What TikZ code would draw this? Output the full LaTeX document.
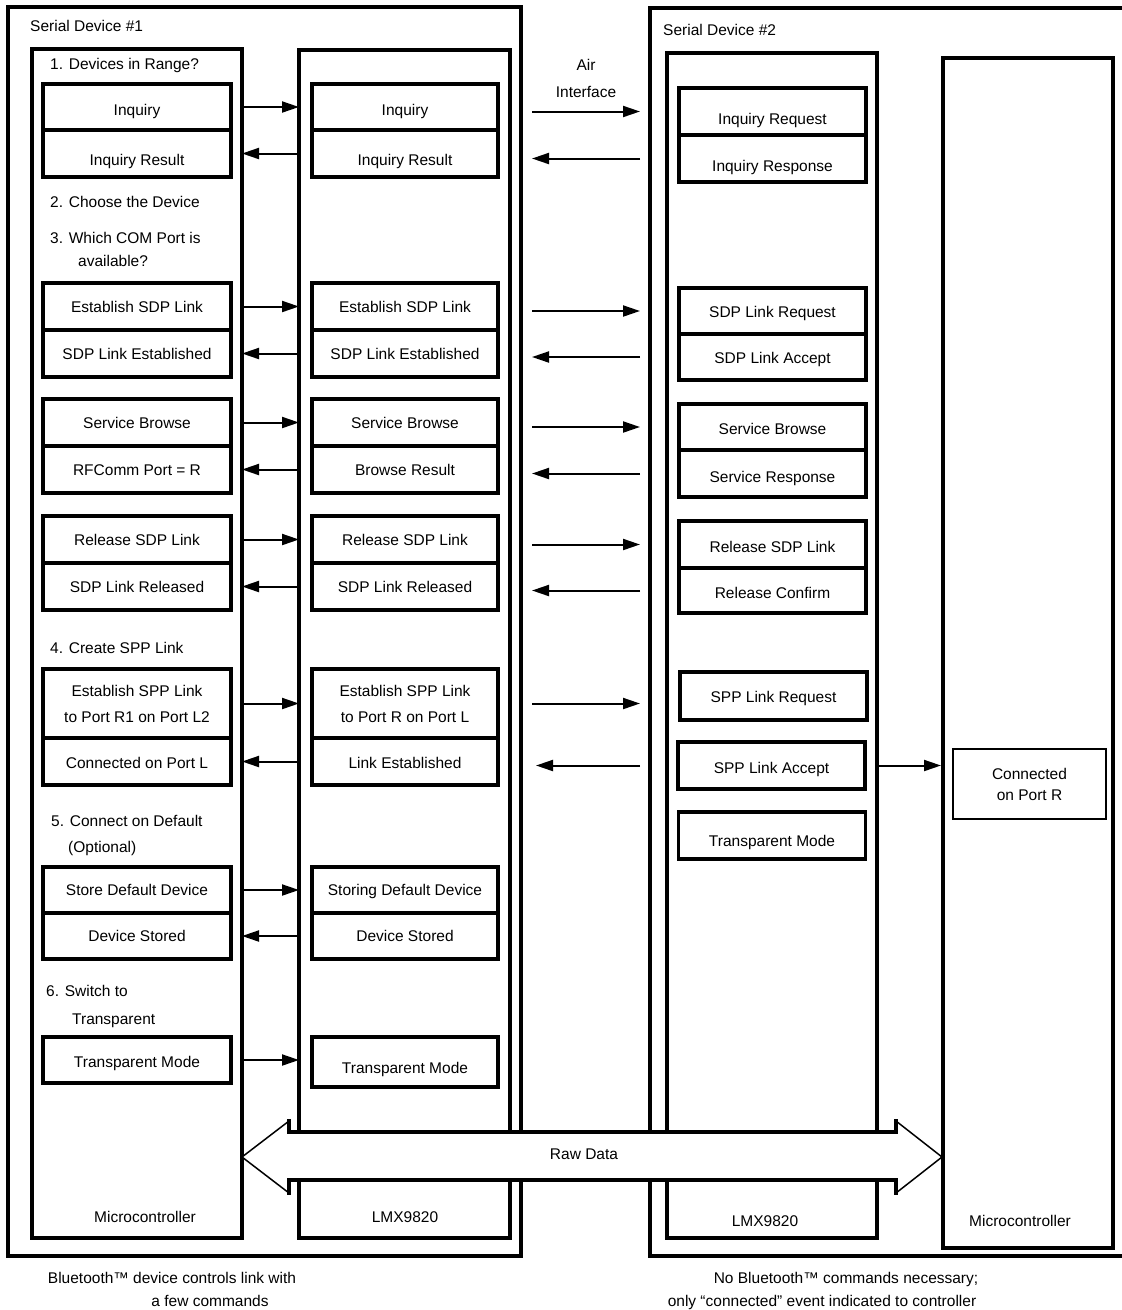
\documentclass[tikz,border=0pt]{standalone}
\usepackage{fontspec}
\setmainfont{Liberation Sans}
\usetikzlibrary{arrows.meta}
\newcommand\dfont{\fontsize{15.5}{18}\selectfont}
\tikzset{
  bx/.style={draw, line width=3.6pt, inner sep=0pt, outer sep=0pt, font=\dfont, text height=11pt, text depth=0pt, align=center},
  sh/.style={text height=#1},
  ml/.style={text height=, text depth=},
  big/.style={draw, line width=3.8pt, inner sep=0pt, outer sep=0pt},
  frame/.style={line width=4.4pt},
  conn/.style={line width=2pt, -{Triangle[length=17pt,width=11pt]}},
  air/.style={conn, shorten <=11pt, shorten >=10pt},
  lbl/.style={font=\dfont, inner sep=0pt, text height=11pt, text depth=0pt},
  colA/.style={bx, minimum width=188, minimum height=47},
  colB/.style={bx, minimum width=186, minimum height=47},
  colC/.style={bx, minimum width=187, minimum height=47},
  fatline/.style={line width=3.8pt},
  thinline/.style={line width=1.5pt},
}
\begin{document}
\begin{tikzpicture}[x=1pt,y=-1pt]
\useasboundingbox (0,0) rectangle (1122,1310);

% outer frames
\node[big, line width=4.4pt, minimum width=513, minimum height=1249] (dev1) at (264.5,631.5) {};
\coordinate (dev2nw) at (650,8);
\coordinate (dev2sw) at (650,1256);
\draw[frame] (1140,8) -- (dev2nw) -- (dev2sw) -- (1140,1256);
\coordinate (dev2) at (650,631.5);

\node[lbl, anchor=west] (t-dev1) at (30,26) {Serial Device \#1};
\node[lbl, anchor=west] (t-dev2) at (663,30) {Serial Device \#2};
\node[lbl] (t-air1) at (586,65) {Air};
\node[lbl] (t-air2) at (586,92) {Interface};

% big component boxes
\node[big, minimum width=210, minimum height=1189] (mc1) at (137,643.5) {};
\node[big, minimum width=211, minimum height=1188] (lmx1) at (404.5,644) {};
\node[big, minimum width=210, minimum height=1185] (lmx2) at (772,645.5) {};
\node[big, minimum width=170, minimum height=1190] (mc2) at (1028,653) {};

\node[lbl] (t-mc1) at (145,1217) {Microcontroller};
\node[lbl] (t-lmx1) at (405,1217) {LMX9820};
\node[lbl] (t-lmx2) at (765,1221) {LMX9820};
\node[lbl] (t-mc2) at (1020,1221) {Microcontroller};

% step labels
\node[lbl, anchor=west] (s1) at (50,64) {1. Devices in Range?};
\node[lbl, anchor=west] (s2) at (50,202) {2. Choose the Device};
\node[lbl, anchor=west] (s3a) at (50,238) {3. Which COM Port is};
\node[lbl, anchor=west] (s3b) at (78,261) {available?};
\node[lbl, anchor=west] (s4) at (50,648) {4. Create SPP Link};
\node[lbl, anchor=west] (s5a) at (51,821) {5. Connect on Default};
\node[lbl, anchor=west] (s5b) at (68,847) {(Optional)};
\node[lbl, anchor=west] (s6a) at (46,991) {6. Switch to};
\node[lbl, anchor=west] (s6b) at (72,1019) {Transparent};

% column A (microcontroller 1)
\node[colA, minimum height=46, sh=17pt] (inqA) at (137,107) {Inquiry};
\node[colA, sh=23pt] (inqresA) at (137,153.5) {Inquiry Result};
\node[colA] (sdpA) at (137,306.5) {Establish SDP Link};
\node[colA] (sdpestA) at (137,353.5) {SDP Link Established};
\node[colA] (sbA) at (137,422.5) {Service Browse};
\node[colA] (rfA) at (137,469.5) {RFComm Port = R};
\node[colA] (relA) at (137,539.5) {Release SDP Link};
\node[colA] (reldA) at (137,586.5) {SDP Link Released};
\node[colA, ml, minimum height=69] (sppA) at (137,703.5) {Establish SPP Link\\[8pt]to Port R1 on Port L2};
\node[colA, sh=13pt] (conA) at (137,761.5) {Connected on Port L};
\node[colA, minimum height=46] (storeA) at (137,890) {Store Default Device};
\node[colA, minimum height=46] (dsA) at (137,936) {Device Stored};
\node[colA, minimum height=46, sh=15pt] (tmA) at (137,1060) {Transparent Mode};

% column B (LMX9820 #1)
\node[colB, minimum height=46, sh=17pt] (inqB) at (405,107) {Inquiry};
\node[colB, sh=23pt] (inqresB) at (405,153.5) {Inquiry Result};
\node[colB] (sdpB) at (405,306.5) {Establish SDP Link};
\node[colB] (sdpestB) at (405,353.5) {SDP Link Established};
\node[colB] (sbB) at (405,422.5) {Service Browse};
\node[colB] (brB) at (405,469.5) {Browse Result};
\node[colB] (relB) at (405,539.5) {Release SDP Link};
\node[colB] (reldB) at (405,586.5) {SDP Link Released};
\node[colB, ml, minimum height=69] (sppB) at (405,703.5) {Establish SPP Link\\[8pt]to Port R on Port L};
\node[colB, sh=13pt] (linkB) at (405,761.5) {Link Established};
\node[colB, minimum height=46] (storeB) at (405,890) {Storing Default Device};
\node[colB, minimum height=46] (dsB) at (405,936) {Device Stored};
\node[colB, minimum height=50, sh=23pt] (tmB) at (405,1062) {Transparent Mode};

% column C (LMX9820 #2)
\node[colC, sh=25pt] (irqC) at (772.5,111.5) {Inquiry Request};
\node[colC, sh=25pt] (irsC) at (772.5,158.5) {Inquiry Response};
\node[colC, minimum height=46, sh=13pt] (sdprqC) at (772.5,311) {SDP Link Request};
\node[colC, minimum height=46, sh=13pt] (sdpacC) at (772.5,357) {SDP Link Accept};
\node[colC, minimum height=46, sh=15pt] (sbC) at (772.5,427) {Service Browse};
\node[colC, sh=17pt] (srC) at (772.5,473.5) {Service Response};
\node[colC, sh=15pt] (relC) at (772.5,544.5) {Release SDP Link};
\node[colC, minimum height=45, sh=15pt] (rcC) at (772.5,590.5) {Release Confirm};
\node[colC, minimum height=48, sh=13pt] (spprqC) at (773.5,696) {SPP Link Request};
\node[colC, sh=15pt] (sppacC) at (771.5,765.5) {SPP Link Accept};
\node[colC, sh=21pt] (tmC) at (772,835.5) {Transparent Mode};

% microcontroller 2
\node[bx, thinline, ml, minimum width=153, minimum height=70] (conR) at (1029.5,784) {Connected\\[3pt]on Port R};

% connectors MC1 <-> LMX1
\draw[conn] (mc1.east |- inqA.east) -- (lmx1.west |- inqA.east);
\draw[conn] (lmx1.west |- inqresA.east) -- (mc1.east |- inqresA.east);
\draw[conn] (mc1.east |- sdpA.east) -- (lmx1.west |- sdpA.east);
\draw[conn] (lmx1.west |- sdpestA.east) -- (mc1.east |- sdpestA.east);
\draw[conn] (mc1.east |- sbA.east) -- (lmx1.west |- sbA.east);
\draw[conn] (lmx1.west |- rfA.east) -- (mc1.east |- rfA.east);
\draw[conn] (mc1.east |- relA.east) -- (lmx1.west |- relA.east);
\draw[conn] (lmx1.west |- reldA.east) -- (mc1.east |- reldA.east);
\draw[conn] (mc1.east |- sppA.east) -- (lmx1.west |- sppA.east);
\draw[conn] (lmx1.west |- conA.east) -- (mc1.east |- conA.east);
\draw[conn] (mc1.east |- storeA.east) -- (lmx1.west |- storeA.east);
\draw[conn] (lmx1.west |- dsA.east) -- (mc1.east |- dsA.east);
\draw[conn] (mc1.east |- tmA.east) -- (lmx1.west |- tmA.east);

% air interface
\draw[air] (dev1.east |- irqC.east) -- (dev2 |- irqC.east);
\draw[air, shorten <=10pt, shorten >=11pt] (dev2 |- irsC.east) -- (dev1.east |- irsC.east);
\draw[air] (dev1.east |- sdprqC.east) -- (dev2 |- sdprqC.east);
\draw[air, shorten <=10pt, shorten >=11pt] (dev2 |- sdpacC.east) -- (dev1.east |- sdpacC.east);
\draw[air] (dev1.east |- sbC.east) -- (dev2 |- sbC.east);
\draw[air, shorten <=10pt, shorten >=11pt] (dev2 |- srC.east) -- (dev1.east |- srC.east);
\draw[air] (dev1.east |- relC.east) -- (dev2 |- relC.east);
\draw[air, shorten <=10pt, shorten >=11pt] (dev2 |- rcC.east) -- (dev1.east |- rcC.east);
\draw[air] (dev1.east |- sppB.east) -- (dev2 |- sppB.east);
\draw[air, shorten <=10pt, shorten >=15pt] (dev2 |- sppacC.east) -- (dev1.east |- sppacC.east);

% LMX2 -> MC2
\draw[conn, shorten >=2pt] (lmx2.east |- sppacC.east) -- (mc2.west |- sppacC.east);

% Raw data double arrow
\coordinate (rl) at (242,1157);
\coordinate (rr) at (942,1157);
\fill[white] (rl) -- (289,1121) -- (289,1132) -- (896,1132) -- (896,1121) -- (rr)
  -- (896,1193) -- (896,1180) -- (289,1180) -- (289,1193) -- cycle;
\draw[fatline, line cap=rect] (289,1121) -- (289,1132) -- (896,1132) -- (896,1121);
\draw[fatline, line cap=rect] (289,1193) -- (289,1180) -- (896,1180) -- (896,1193);
\draw[thinline] (289,1121) -- (rl) -- (289,1193);
\draw[thinline] (896,1121) -- (rr) -- (896,1193);
\node[lbl] (rawdata) at (584,1154) {Raw Data};

% captions
\node[lbl] (cap1a) at (172,1278) {Bluetooth™ device controls link with};
\node[lbl] (cap1b) at (210,1301) {a few commands};
\node[lbl] (cap2a) at (846,1278) {No Bluetooth™ commands necessary;};
\node[lbl] (cap2b) at (822,1301) {only “connected” event indicated to controller};
\end{tikzpicture}
\end{document}
